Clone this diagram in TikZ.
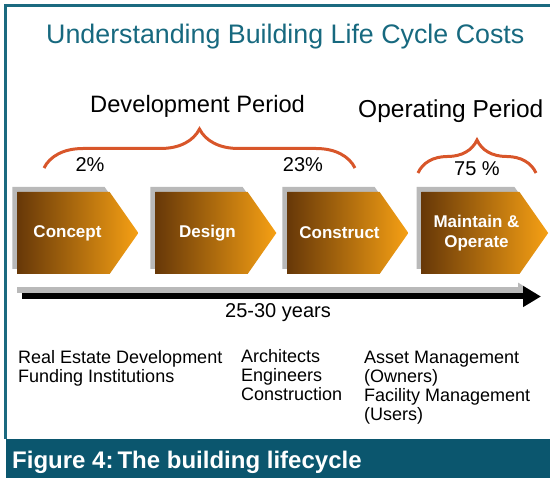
\documentclass[tikz,border=0pt]{standalone}
\usepackage{fontspec}
\setmainfont{Liberation Sans}
\usetikzlibrary{shapes.symbols,shadows,decorations.pathreplacing,arrows.meta}

\definecolor{framecol}{HTML}{1B6A80}
\definecolor{titlecol}{HTML}{17697F}
\definecolor{bandcol}{HTML}{0B566E}
\definecolor{bracecol}{HTML}{D8562A}
\definecolor{stepdark}{HTML}{673808}
\definecolor{steplight}{HTML}{F6A014}

\tikzset{
  phase/.style={signal, signal to=east, signal pointer angle=110,
    minimum width=121pt, minimum height=82pt, inner sep=0pt,
    left color=stepdark, right color=steplight, text=white, align=center,
    font=\fontsize{17}{20}\selectfont\bfseries,
    general shadow={fill=gray!55, shadow xshift=-5pt, shadow yshift=5pt}},
  period/.style={decorate, draw=bracecol, line width=3pt},
  pct/.style={font=\fontsize{20}{24}\selectfont, inner sep=0pt},
  who/.style={font=\fontsize{18}{19}\selectfont, align=left, inner sep=0pt, anchor=north west}
}

\begin{document}
\begin{tikzpicture}[x=1pt,y=-1pt]
  \useasboundingbox (0,0) rectangle (550,478);

  % frame and caption band
  \draw[framecol, line width=2.5pt] (5.5,439) -- (5.5,5.5) -- (550,5.5);
  \fill[bandcol] (6,439) rectangle (550,478);
  \node[anchor=base west, inner sep=0pt, text=white,
    font=\fontsize{24}{28}\selectfont\bfseries] (caption) at (12,469)
    {Figure 4:\,The building lifecycle};

  % headings
  \node[anchor=base west, inner sep=0pt, text=titlecol,
    font=\fontsize{26.8}{30}\selectfont] (title) at (46,44)
    {Understanding Building Life Cycle Costs};
  \node[anchor=base west, inner sep=0pt, font=\fontsize{23.7}{28}\selectfont]
    (devper) at (90,113) {Development Period};
  \node[anchor=base west, inner sep=0pt, font=\fontsize{24.5}{28}\selectfont]
    (opper) at (358,117.5) {Operating Period};

  % braces
  \coordinate (devL) at (44,168);
  \coordinate (devR) at (355,168);
  \coordinate (opL) at (418,173);
  \coordinate (opR) at (536,173);
  \draw[period, decoration={brace, amplitude=39pt}] (devL) -- (devR);
  \draw[period, decoration={brace, amplitude=33pt}] (opL) -- (opR);

  \node[pct] (p2) at (90,165) {2\%};
  \node[pct] (p23) at (303,165) {23\%};
  \node[pct] (p75) at (477,169) {75 \%};

  % phases
  \node[phase] (concept) at (63.5,233) {\hspace*{8pt}Concept};
  \node[phase] (design) at (201.5,233) {\hspace*{12pt}Design};
  \node[phase] (construct) at (333.5,233) {\hspace*{12pt}Construct};
  \node[phase] (maintain) at (470.5,233) {\hspace*{12pt}Maintain \&\\\hspace*{12pt}Operate};

  % time line
  \coordinate (shA) at (17,290);
  \coordinate (shB) at (530,290);
  \coordinate (tA) at (22,296.5);
  \coordinate (tB) at (541,296.5);
  \draw[gray!55, line width=6pt, -{Triangle[length=12pt,width=14pt]}] (shA) -- (shB);
  \draw[black, line width=6pt, -{Triangle[length=18pt,width=20pt]}] (tA) -- (tB);
  \node[anchor=base west, inner sep=0pt, font=\fontsize{20}{24}\selectfont]
    (years) at (225,318) {25-30 years};

  % who is involved
  \node[who] (devwho) at (18,350) {Real Estate Development\\Funding Institutions};
  \node[who] (desWho) at (241,349) {Architects\\Engineers\\Construction};
  \node[who] (opwho) at (364,351) {Asset Management\\(Owners)\\Facility Management\\(Users)};
\end{tikzpicture}
\end{document}
